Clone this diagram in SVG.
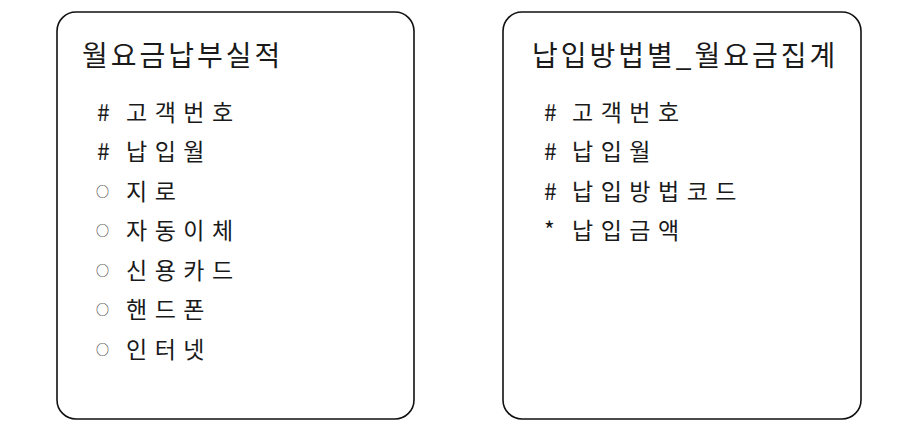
<svg xmlns="http://www.w3.org/2000/svg" width="904" height="436" viewBox="0 0 904 436">
  <style>
    .box { fill: #ffffff; stroke: #111111; stroke-width: 1.6; }
    text { font-family: "Noto Sans CJK KR", "Noto Sans", sans-serif; fill: #1a1a1a; }
    .title { font-size: 28px; letter-spacing: 3px; }
    .item { font-size: 23px; letter-spacing: 7.5px; }
    .mk { font-size: 13px; letter-spacing: 0; }
  </style>
  <rect width="904" height="436" fill="#ffffff"/>
  <g id="connectors"/>
  <g id="node-monthly-payment">
    <rect class="box" x="57" y="12" width="357" height="407" rx="19" ry="19"/>
    <text class="title" x="82" y="66">월요금납부실적</text>
    <text class="item" x="97" y="120.5">#<tspan x="126">고객번호</tspan></text>
    <text class="item" x="97" y="160">#<tspan x="126">납입월</tspan></text>
    <text class="item" x="96" y="199.5"><tspan class="mk" dy="-4">○</tspan><tspan x="126" dy="4">지로</tspan></text>
    <text class="item" x="96" y="239"><tspan class="mk" dy="-4">○</tspan><tspan x="126" dy="4">자동이체</tspan></text>
    <text class="item" x="96" y="278.5"><tspan class="mk" dy="-4">○</tspan><tspan x="126" dy="4">신용카드</tspan></text>
    <text class="item" x="96" y="318"><tspan class="mk" dy="-4">○</tspan><tspan x="126" dy="4">핸드폰</tspan></text>
    <text class="item" x="96" y="357.5"><tspan class="mk" dy="-4">○</tspan><tspan x="126" dy="4">인터넷</tspan></text>
  </g>
  <g id="node-payment-method-summary">
    <rect class="box" x="503" y="12" width="358" height="407" rx="19" ry="19"/>
    <text class="title" x="532" y="66">납입방법별_월요금집계</text>
    <text class="item" x="544" y="120.5">#<tspan x="572">고객번호</tspan></text>
    <text class="item" x="544" y="160">#<tspan x="572">납입월</tspan></text>
    <text class="item" x="544" y="199.5">#<tspan x="572">납입방법코드</tspan></text>
    <text class="item" x="544" y="239">*<tspan x="572">납입금액</tspan></text>
  </g>
</svg>
